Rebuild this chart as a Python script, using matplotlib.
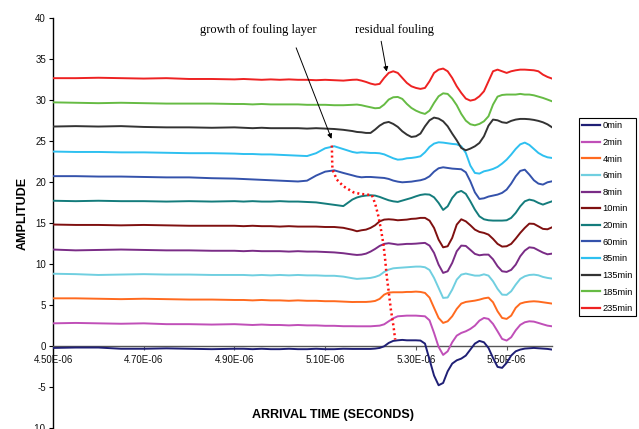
import matplotlib
matplotlib.use("Agg")
import matplotlib.pyplot as plt
from matplotlib.ticker import FixedLocator, FuncFormatter

# ---------------- data (time in microseconds, amplitude) ----------------
time_us = [4.50, 4.55, 4.60, 4.65, 4.70, 4.75, 4.80, 4.85, 4.90, 4.92, 4.94,
           4.96, 4.98, 5.00, 5.02, 5.04, 5.06, 5.08, 5.10, 5.12, 5.14, 5.16,
           5.17, 5.18, 5.19, 5.20, 5.21, 5.22, 5.23, 5.24, 5.25, 5.26, 5.27,
           5.28, 5.29, 5.30, 5.31, 5.32, 5.33, 5.34, 5.35, 5.36, 5.37, 5.38,
           5.39, 5.40, 5.41, 5.42, 5.43, 5.44, 5.45, 5.46, 5.47, 5.48, 5.49,
           5.50, 5.51, 5.52, 5.53, 5.54, 5.55, 5.56, 5.57, 5.58, 5.59, 5.60]

amp_0min = [-0.20, -0.15, -0.15, -0.30, -0.30, -0.25, -0.30, -0.35, -0.30, -0.30, -0.35,
            -0.30, -0.35, -0.35, -0.30, -0.35, -0.35, -0.30, -0.35, -0.35, -0.30, -0.32,
            -0.32, -0.32, -0.32, -0.32, -0.28, -0.20, 0.00, 0.41, 0.66, 0.73, 0.78,
            0.73, 0.73, 0.73, 0.70, 0.33, -1.62, -3.57, -4.75, -4.47, -3.05, -2.11,
            -1.71, -1.50, -1.13, -0.40, 0.33, 0.66, 0.49, -0.20, -1.42, -2.51, -2.63,
            -2.02, -1.13, -0.61, -0.40, -0.28, -0.24, -0.20, -0.24, -0.28, -0.32, -0.40]
amp_2min = [2.80, 2.85, 2.80, 2.75, 2.80, 2.70, 2.70, 2.65, 2.70, 2.65, 2.60,
            2.65, 2.60, 2.60, 2.55, 2.60, 2.55, 2.55, 2.50, 2.50, 2.45, 2.45,
            2.44, 2.44, 2.44, 2.44, 2.48, 2.52, 2.68, 3.05, 3.41, 3.66, 3.70,
            3.74, 3.74, 3.74, 3.70, 3.66, 3.17, 1.63, -0.07, -1.05, -0.61, 0.49,
            1.30, 1.63, 1.83, 2.12, 2.52, 3.13, 3.46, 3.34, 2.73, 1.83, 0.90,
            0.70, 1.10, 1.95, 2.61, 2.93, 3.05, 3.01, 2.85, 2.68, 2.52, 2.44]
amp_4min = [5.85, 5.85, 5.80, 5.75, 5.80, 5.75, 5.70, 5.70, 5.65, 5.65, 5.60,
            5.65, 5.60, 5.60, 5.55, 5.60, 5.55, 5.55, 5.50, 5.50, 5.45, 5.40,
            5.41, 5.41, 5.41, 5.45, 5.53, 5.78, 6.30, 6.55, 6.59, 6.59, 6.59,
            6.63, 6.63, 6.67, 6.63, 6.51, 5.94, 4.69, 3.46, 2.85, 3.05, 3.66,
            4.56, 5.21, 5.41, 5.49, 5.57, 5.69, 5.85, 5.94, 5.37, 4.27, 3.46,
            3.34, 3.74, 4.69, 5.21, 5.37, 5.45, 5.49, 5.45, 5.37, 5.29, 5.21]
amp_6min = [8.85, 8.80, 8.70, 8.75, 8.80, 8.75, 8.75, 8.70, 8.70, 8.70, 8.65,
            8.70, 8.65, 8.70, 8.65, 8.70, 8.65, 8.65, 8.60, 8.60, 8.50, 8.30,
            8.22, 8.26, 8.29, 8.34, 8.46, 8.66, 9.07, 9.35, 9.51, 9.56, 9.60,
            9.64, 9.68, 9.72, 9.72, 9.64, 9.31, 8.34, 7.12, 5.90, 5.95, 6.91,
            8.13, 8.74, 8.87, 8.74, 8.62, 8.62, 8.78, 8.62, 7.93, 7.00, 6.30,
            6.27, 6.71, 7.52, 8.22, 8.54, 8.70, 8.74, 8.66, 8.46, 8.34, 8.26]
amp_8min = [11.80, 11.70, 11.75, 11.80, 11.75, 11.70, 11.70, 11.65, 11.65, 11.60, 11.65,
            11.60, 11.60, 11.60, 11.55, 11.60, 11.55, 11.55, 11.50, 11.45, 11.35, 11.20,
            11.14, 11.18, 11.30, 11.55, 11.87, 12.24, 12.49, 12.57, 12.49, 12.40, 12.44,
            12.49, 12.49, 12.52, 12.57, 12.61, 12.28, 11.39, 9.96, 8.95, 9.15, 10.17,
            11.59, 12.28, 12.24, 11.76, 11.27, 11.10, 11.18, 11.18, 10.61, 9.76, 9.15,
            9.07, 9.32, 9.96, 10.98, 11.67, 12.07, 12.00, 11.71, 11.43, 11.22, 11.30]
amp_10min = [14.85, 14.80, 14.80, 14.75, 14.80, 14.75, 14.70, 14.70, 14.70, 14.65, 14.70,
             14.65, 14.65, 14.60, 14.65, 14.60, 14.60, 14.60, 14.55, 14.55, 14.45, 14.20,
             14.03, 14.15, 14.23, 14.44, 14.76, 15.24, 15.45, 15.49, 15.45, 15.37, 15.41,
             15.45, 15.54, 15.57, 15.66, 15.66, 15.33, 14.44, 13.01, 12.07, 12.20, 13.22,
             14.84, 15.49, 15.24, 14.76, 14.23, 13.95, 13.83, 13.62, 13.10, 12.49, 12.16,
             12.20, 12.49, 13.13, 13.83, 14.44, 14.96, 14.93, 14.63, 14.32, 14.27, 14.51]
amp_20min = [17.75, 17.70, 17.75, 17.70, 17.70, 17.65, 17.70, 17.65, 17.70, 17.65, 17.70,
             17.65, 17.65, 17.70, 17.65, 17.65, 17.60, 17.55, 17.40, 17.25, 17.10, 17.90,
             18.15, 18.30, 18.38, 18.42, 18.38, 18.22, 18.01, 17.81, 17.68, 17.61, 17.77,
             17.93, 18.09, 18.29, 18.46, 18.54, 18.50, 18.17, 17.49, 16.63, 17.07, 18.09,
             18.74, 18.95, 18.59, 17.68, 16.67, 15.85, 15.49, 15.37, 15.33, 15.33, 15.33,
             15.37, 15.66, 16.27, 17.07, 17.68, 17.89, 17.77, 17.49, 17.28, 17.49, 17.68]
amp_60min = [20.75, 20.75, 20.70, 20.70, 20.65, 20.60, 20.60, 20.50, 20.45, 20.40, 20.35,
             20.30, 20.25, 20.20, 20.15, 20.10, 20.20, 20.82, 21.30, 21.46, 21.14, 20.85,
             20.70, 20.61, 20.65, 20.65, 20.61, 20.57, 20.53, 20.41, 20.21, 20.08, 20.00,
             20.04, 20.08, 20.17, 20.25, 20.41, 20.73, 21.30, 21.71, 21.83, 21.75, 21.67,
             21.63, 21.59, 21.22, 20.12, 18.78, 17.97, 18.05, 18.26, 18.38, 18.50, 18.71,
             19.11, 19.84, 20.73, 21.39, 21.54, 20.94, 20.25, 19.84, 19.72, 20.00, 20.12]
amp_85min = [23.75, 23.70, 23.70, 23.65, 23.65, 23.60, 23.55, 23.55, 23.50, 23.45, 23.45,
             23.40, 23.40, 23.35, 23.30, 23.25, 23.20, 23.55, 24.15, 24.40, 24.05, 23.70,
             23.60, 23.66, 23.62, 23.58, 23.58, 23.54, 23.41, 23.17, 22.93, 22.76, 22.80,
             22.93, 22.97, 23.05, 23.17, 23.66, 24.31, 24.72, 24.88, 24.84, 24.76, 24.68,
             24.63, 24.39, 23.58, 22.04, 21.14, 21.06, 21.34, 21.46, 21.63, 21.88, 22.28,
             22.76, 23.38, 24.07, 24.63, 24.84, 24.56, 24.07, 23.58, 23.26, 23.05, 22.97]
amp_135min = [26.80, 26.85, 26.80, 26.85, 26.75, 26.70, 26.70, 26.65, 26.70, 26.65, 26.60,
              26.65, 26.60, 26.60, 26.60, 26.60, 26.55, 26.60, 26.55, 26.50, 26.40, 26.25,
              26.14, 26.10, 26.02, 26.02, 26.43, 26.91, 27.24, 27.36, 27.12, 26.76, 26.22,
              25.82, 25.53, 25.61, 25.94, 26.83, 27.56, 27.89, 27.77, 27.44, 26.83, 25.94,
              25.12, 24.19, 23.90, 24.11, 24.39, 24.80, 25.61, 26.91, 27.65, 27.56, 27.32,
              27.24, 27.49, 27.65, 27.73, 27.73, 27.69, 27.61, 27.49, 27.32, 27.07, 26.71]
amp_185min = [29.75, 29.70, 29.65, 29.70, 29.65, 29.60, 29.60, 29.60, 29.55, 29.55, 29.50,
              29.55, 29.50, 29.50, 29.50, 29.50, 29.45, 29.45, 29.45, 29.40, 29.40, 29.45,
              29.48, 29.40, 29.27, 29.15, 29.03, 29.07, 29.48, 30.09, 30.37, 30.41, 30.17,
              29.56, 29.07, 28.74, 28.50, 28.34, 28.74, 29.68, 30.49, 30.85, 30.78, 30.21,
              29.40, 28.34, 27.52, 27.08, 26.95, 27.12, 27.44, 28.05, 29.48, 30.45, 30.65,
              30.70, 30.70, 30.70, 30.78, 30.70, 30.70, 30.61, 30.45, 30.29, 30.09, 29.88]
amp_235min = [32.70, 32.70, 32.75, 32.70, 32.65, 32.70, 32.60, 32.60, 32.55, 32.60, 32.55,
              32.50, 32.55, 32.50, 32.55, 32.50, 32.50, 32.45, 32.50, 32.45, 32.40, 32.50,
              32.52, 32.40, 32.24, 32.04, 31.91, 32.00, 32.73, 33.34, 33.54, 33.34, 32.73,
              32.12, 31.71, 31.51, 31.39, 31.51, 32.32, 33.34, 33.74, 33.87, 33.54, 32.73,
              31.71, 30.90, 30.21, 29.96, 30.09, 30.49, 31.10, 32.32, 33.54, 33.74, 33.54,
              33.34, 33.54, 33.66, 33.74, 33.74, 33.70, 33.66, 33.54, 33.13, 32.85, 32.65]

series_labels = ["0min", "2min", "4min", "6min", "8min", "10min", "20min",
                 "60min", "85min", "135min", "185min", "235min"]

# red dotted trace of the fouling-layer growth
fouling_t = [5.1147, 5.1153, 5.1160, 5.1257, 5.1403, 5.1623, 5.1771, 5.2029, 5.2102,
             5.2175, 5.2234, 5.2285, 5.2322, 5.2360, 5.2395, 5.2448, 5.2506, 5.2543]
fouling_amp = [24.48, 22.77, 21.55, 20.33, 19.51, 18.78, 18.59, 18.44, 17.40,
               15.82, 14.11, 12.40, 10.57, 8.38, 6.91, 4.48, 2.44, 0.82]

x_ticks_us = [4.50, 4.70, 4.90, 5.10, 5.30, 5.50]
y_ticks = [-10, -5, 0, 5, 10, 15, 20, 25, 30, 35, 40]

# ---------------- styling ----------------
series_values = [amp_0min, amp_2min, amp_4min, amp_6min, amp_8min, amp_10min,
                 amp_20min, amp_60min, amp_85min, amp_135min, amp_185min, amp_235min]
series_colors = ["#1f1f75", "#c04fb8", "#ff6a1f", "#70cfe0", "#7a2c86", "#7f1010",
                 "#147c7c", "#3452ab", "#2ec0f0", "#333333", "#66bb44", "#ee2222"]

SANS = "Liberation Sans"
SERIF = "Liberation Serif"

fig = plt.figure(figsize=(6.39, 4.29), dpi=100)
W, H = 639.0, 429.0
ax = fig.add_axes([53 / W, 1 - 428.3 / H, (552 - 53) / W, (428.3 - 18.3) / H])

t_sec = [t * 1e-6 for t in time_us]
for vals, lab, col in zip(series_values, series_labels, series_colors):
    ax.plot(t_sec, vals, color=col, lw=1.4, label=lab, zorder=3,
            solid_joinstyle="round")

ax.set_xlim(4.5e-6, 5.6e-6)
ax.set_ylim(-10, 40)

for s in ("top", "right"):
    ax.spines[s].set_visible(False)
ax.spines["bottom"].set_position(("data", 0))
ax.spines["bottom"].set_color("#555555")
ax.spines["bottom"].set_linewidth(1.0)
ax.spines["left"].set_color("black")
ax.spines["left"].set_linewidth(1.0)

ax.xaxis.set_major_locator(FixedLocator([v * 1e-6 for v in x_ticks_us]))
ax.xaxis.set_major_formatter(FuncFormatter(lambda v, p: f"{v:.2E}"))
ax.yaxis.set_major_locator(FixedLocator(y_ticks))
ax.yaxis.set_major_formatter(FuncFormatter(lambda v, p: f"{v:g}"))
ax.tick_params(axis="x", direction="out", length=3, width=0.8, color="#555555",
               pad=3.5, labelsize=7)
ax.tick_params(axis="y", direction="out", length=3, width=0.8, color="black",
               pad=2, labelsize=7)
for lbl in ax.get_xticklabels() + ax.get_yticklabels():
    lbl.set_fontfamily(SANS)
    lbl.set_color("#111111")

# growth trace
ax.plot([t * 1e-6 for t in fouling_t], fouling_amp, color="#ff1010", lw=1.8,
        linestyle=(0, (0.8, 1.2)), zorder=4)

# annotations
ax.text(4.952e-6, 38.6, "growth of fouling layer", ha="center", va="center",
        fontsize=9, family=SERIF, color="black")
ax.text(5.252e-6, 38.6, "residual fouling", ha="center", va="center",
        fontsize=9, family=SERIF, color="black")
ax.annotate("", xy=(5.114e-6, 25.3), xytext=(5.036e-6, 36.4),
            arrowprops=dict(arrowstyle="-|>", color="black", lw=0.7,
                            mutation_scale=7, shrinkA=0, shrinkB=0), zorder=5)
ax.annotate("", xy=(5.2356e-6, 33.5), xytext=(5.2234e-6, 37.2),
            arrowprops=dict(arrowstyle="-|>", color="black", lw=0.7,
                            mutation_scale=7, shrinkA=0, shrinkB=0), zorder=5)

# axis titles
fig.text(22.5 / W, 1 - 213 / H, "AMPLITUDE", rotation=90, ha="center", va="center",
         fontsize=9, fontweight="bold", family=SANS)
fig.text(333 / W, 1 - 415 / H, "ARRIVAL TIME (SECONDS)", ha="center", va="center",
         fontsize=9, fontweight="bold", family=SANS)

# legend
leg = fig.legend(loc="upper left", bbox_to_anchor=(579 / W, 1 - 118 / H),
                 frameon=True, fancybox=False, framealpha=1, edgecolor="black",
                 prop={"family": SANS, "size": 6.7}, handlelength=1.9,
                 handletextpad=0.25, labelspacing=0.82, borderpad=0.35,
                 borderaxespad=0)
leg.get_frame().set_linewidth(0.8)
for line in leg.get_lines():
    line.set_linewidth(1.6)

fig.savefig("out.png", dpi=100)
